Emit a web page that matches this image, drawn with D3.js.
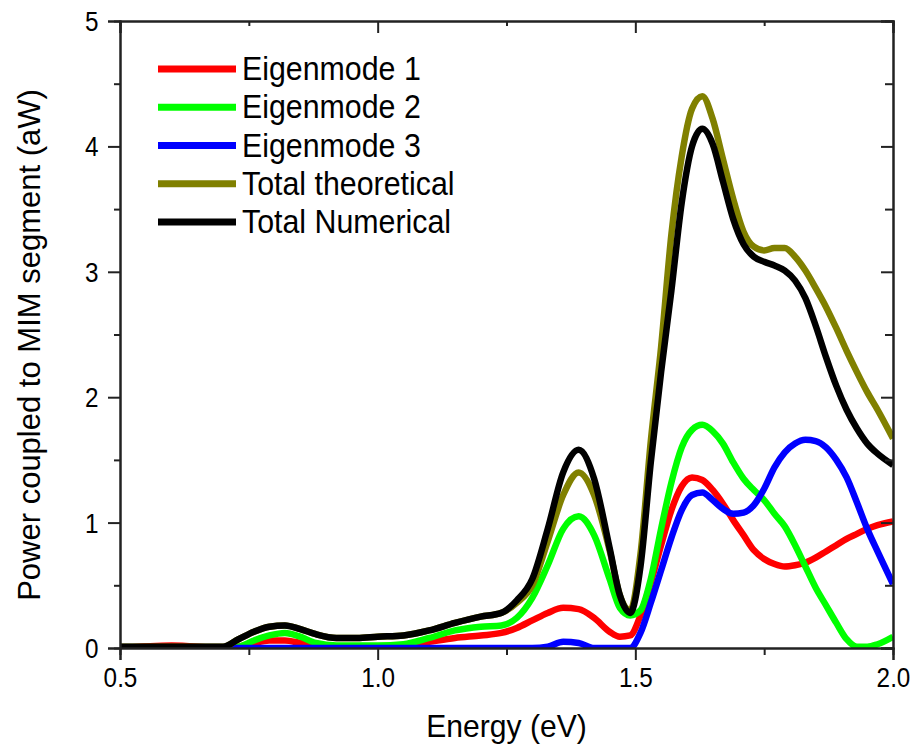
<!DOCTYPE html>
<html>
<head>
<meta charset="utf-8">
<script src="https://cdn.jsdelivr.net/npm/d3@7"></script>
<style>
  body { margin: 0; background: #fff; }
  svg text { font-family: Arial, "Liberation Sans", sans-serif; fill: #000; }
</style>
</head>
<body>
<div id="chart-area"></div>
<script>
// ---- data ----
var energy = [0.50, 0.60, 0.70, 0.73, 0.76, 0.79, 0.82, 0.85, 0.88, 0.92, 0.96, 1.00, 1.05, 1.10, 1.15, 1.20, 1.24, 1.27, 1.30, 1.33, 1.36, 1.39, 1.42, 1.45, 1.47, 1.49, 1.51, 1.53, 1.55, 1.57, 1.59, 1.61, 1.63, 1.65, 1.67, 1.69, 1.71, 1.73, 1.75, 1.77, 1.79, 1.81, 1.83, 1.85, 1.87, 1.89, 1.91, 1.93, 1.95, 1.97, 2.00];

var eigen1 = [0.00, 0.02, 0.00, 0.01, 0.04, 0.06, 0.06, 0.04, 0.02, 0.01, 0.01, 0.01, 0.02, 0.05, 0.08, 0.10, 0.12, 0.16, 0.22, 0.28, 0.32, 0.31, 0.24, 0.13, 0.09, 0.10, 0.26, 0.52, 0.82, 1.10, 1.29, 1.36, 1.34, 1.26, 1.15, 1.02, 0.90, 0.78, 0.71, 0.67, 0.65, 0.66, 0.68, 0.72, 0.77, 0.82, 0.87, 0.91, 0.95, 0.98, 1.01];

var eigen2 = [0.00, 0.00, 0.00, 0.01, 0.06, 0.10, 0.12, 0.09, 0.04, 0.02, 0.02, 0.02, 0.03, 0.08, 0.14, 0.17, 0.18, 0.24, 0.40, 0.66, 0.95, 1.05, 0.90, 0.55, 0.32, 0.26, 0.30, 0.55, 0.95, 1.32, 1.60, 1.74, 1.78, 1.73, 1.63, 1.48, 1.35, 1.26, 1.18, 1.07, 0.97, 0.82, 0.65, 0.48, 0.34, 0.20, 0.07, 0.01, 0.01, 0.03, 0.09];

var eigen3 = [0.00, 0.00, 0.00, 0.00, 0.00, 0.00, 0.00, 0.00, 0.00, 0.00, 0.00, 0.00, 0.00, 0.00, 0.00, 0.00, 0.00, 0.00, 0.00, 0.01, 0.05, 0.04, 0.00, 0.00, 0.00, 0.00, 0.12, 0.36, 0.62, 0.88, 1.10, 1.22, 1.24, 1.18, 1.11, 1.07, 1.08, 1.14, 1.27, 1.44, 1.56, 1.63, 1.66, 1.65, 1.60, 1.50, 1.36, 1.16, 0.95, 0.77, 0.51];

var totalTheory = [0.01, 0.01, 0.01, 0.07, 0.13, 0.17, 0.18, 0.15, 0.11, 0.08, 0.08, 0.09, 0.10, 0.14, 0.20, 0.25, 0.28, 0.36, 0.50, 0.85, 1.22, 1.40, 1.22, 0.78, 0.42, 0.30, 0.75, 1.65, 2.40, 3.30, 3.92, 4.30, 4.40, 4.22, 3.90, 3.58, 3.32, 3.20, 3.17, 3.19, 3.19, 3.12, 3.01, 2.87, 2.72, 2.55, 2.37, 2.20, 2.04, 1.90, 1.67];

var totalNum = [0.01, 0.01, 0.01, 0.07, 0.13, 0.17, 0.18, 0.15, 0.11, 0.08, 0.08, 0.09, 0.10, 0.14, 0.20, 0.25, 0.28, 0.38, 0.55, 0.95, 1.40, 1.58, 1.35, 0.80, 0.42, 0.28, 0.65, 1.48, 2.20, 2.85, 3.55, 4.00, 4.14, 4.02, 3.72, 3.42, 3.22, 3.12, 3.08, 3.05, 3.01, 2.93, 2.79, 2.57, 2.32, 2.09, 1.90, 1.75, 1.63, 1.55, 1.46];

var seriesNames = ["Eigenmode 1", "Eigenmode 2", "Eigenmode 3", "Total theoretical", "Total Numerical"];
var seriesColors = ["#ff0000", "#00ff00", "#0000ff", "#808000", "#000000"];
var seriesValues = [eigen1, eigen2, eigen3, totalTheory, totalNum];

var xMajor = [0.5, 1.0, 1.5, 2.0];
var xMinor = [0.75, 1.25, 1.75];
var yMajor = [0, 1, 2, 3, 4, 5];
var yMinor = [0.5, 1.5, 2.5, 3.5, 4.5];

// ---- dimensions ----
var svgW = 913, svgH = 749;
var margin = { top: 21, right: 20, bottom: 101, left: 120 };
var width = svgW - margin.left - margin.right,
    height = svgH - margin.top - margin.bottom;

var svg = d3.select("#chart-area").append("svg")
    .attr("width", svgW)
    .attr("height", svgH);

var g = svg.append("g")
    .attr("transform", "translate(" + margin.left + "," + margin.top + ")");

var x = d3.scaleLinear().domain([0.5, 2.0]).range([0, width]);
var y = d3.scaleLinear().domain([0, 5]).range([height, 0]);

g.append("clipPath").attr("id", "plot-clip")
  .append("rect").attr("width", width).attr("height", height);

// ---- lines ----
var line = d3.line()
    .x(function(d) { return x(d[0]); })
    .y(function(d) { return y(d[1]); })
    .curve(d3.curveMonotoneX);

var lines = g.append("g").attr("clip-path", "url(#plot-clip)");
seriesValues.forEach(function(vals, i) {
  lines.append("path")
    .datum(energy.map(function(e, j) { return [e, vals[j]]; }))
    .attr("fill", "none")
    .attr("stroke", seriesColors[i])
    .attr("stroke-width", 6.5)
    .attr("stroke-linejoin", "round")
    .attr("d", line);
});

// ---- axes ----
function styleAxis(sel) {
  sel.selectAll("path.domain").attr("stroke", "#222").attr("stroke-width", 2);
  sel.selectAll(".tick line").attr("stroke", "#222").attr("stroke-width", 2);
}

// minor ticks first (no labels)
g.append("g").attr("transform", "translate(0," + height + ")")
  .call(d3.axisBottom(x).tickValues(xMinor).tickSize(7).tickFormat(""))
  .call(styleAxis);
g.append("g")
  .call(d3.axisTop(x).tickValues(xMinor).tickSize(-5).tickFormat(""))
  .call(styleAxis);
g.append("g")
  .call(d3.axisLeft(y).tickValues(yMinor).tickSize(6).tickFormat(""))
  .call(styleAxis);
g.append("g").attr("transform", "translate(" + width + ",0)")
  .call(d3.axisRight(y).tickValues(yMinor).tickSize(-8).tickFormat(""))
  .call(styleAxis);

// major ticks
var xAxis = g.append("g").attr("transform", "translate(0," + height + ")")
  .call(d3.axisBottom(x).tickValues(xMajor).tickSize(12).tickFormat(d3.format(".1f")))
  .call(styleAxis);
xAxis.selectAll("text")
  .attr("y", 39).attr("dy", null)
  .style("font-size", "27px")
  .attr("transform", "scale(0.9,1)");

g.append("g")
  .call(d3.axisTop(x).tickValues(xMajor).tickSize(-12).tickFormat(""))
  .call(styleAxis);

var yAxis = g.append("g")
  .call(d3.axisLeft(y).tickValues(yMajor).tickSize(12).tickFormat(d3.format("d")))
  .call(styleAxis);
yAxis.selectAll("text")
  .attr("x", -24).attr("dy", 9.5)
  .style("font-size", "27px")
  .attr("transform", "scale(0.9,1)");

g.append("g").attr("transform", "translate(" + width + ",0)")
  .call(d3.axisRight(y).tickValues(yMajor).tickSize(-12).tickFormat(""))
  .call(styleAxis);

// ---- axis titles ----
svg.append("text")
  .attr("text-anchor", "middle")
  .attr("transform", "translate(" + (margin.left + width / 2) + ",737) scale(0.94,1)")
  .style("font-size", "32px")
  .text("Energy (eV)");

svg.append("text")
  .attr("text-anchor", "middle")
  .attr("transform", "translate(40,345) rotate(-90)")
  .style("font-size", "31px")
  .text("Power coupled to MIM segment (aW)");

// ---- legend ----
var legend = svg.append("g").attr("transform", "translate(158,69)");
seriesNames.forEach(function(name, i) {
  var row = legend.append("g").attr("transform", "translate(0," + (i * 38.25) + ")");
  row.append("line")
    .attr("x1", 0).attr("x2", 78)
    .attr("y1", 0).attr("y2", 0)
    .attr("stroke", seriesColors[i])
    .attr("stroke-width", 7);
  row.append("text")
    .attr("transform", "translate(84,11) scale(0.92,1)")
    .style("font-size", "33px")
    .text(name);
});
</script>
</body>
</html>
